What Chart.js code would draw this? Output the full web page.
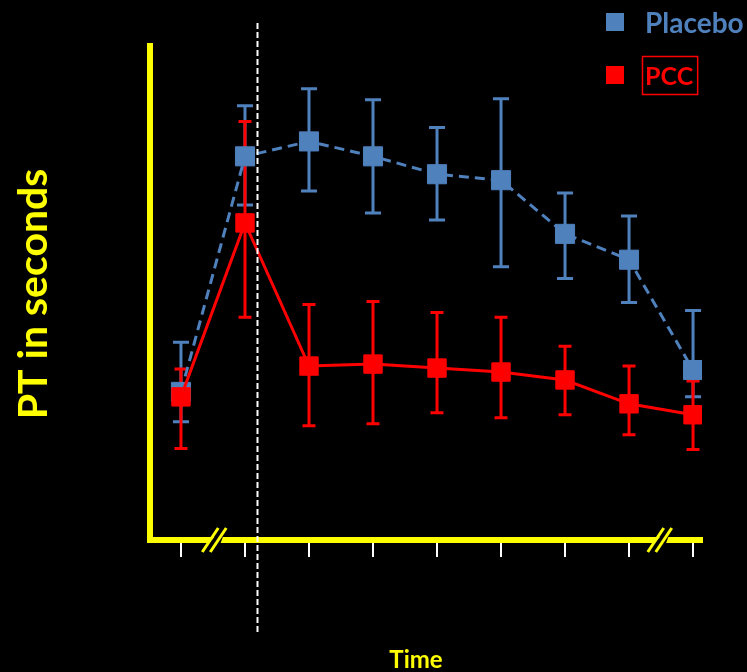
<!DOCTYPE html>
<html>
<head>
<meta charset="utf-8">
<script src="https://cdn.jsdelivr.net/npm/chart.js@4.4.1/dist/chart.umd.min.js"></script>
<style>
  html, body { margin: 0; padding: 0; background: #000; }
  #container { width: 747px; height: 672px; }
</style>
</head>
<body>
<div id="container"><canvas id="ptChart" width="747" height="672"></canvas></div>
<script>
// time points along the (broken) x axis
const TIME_POINTS = [0, 1, 2, 3, 4, 5, 6, 7, 8];

// PT values (arbitrary units, 0 = x axis)
const PLACEBO_MEAN = [14.9, 38.6, 40.1, 38.6, 36.8, 36.2, 30.8, 28.2, 17.1];
const PLACEBO_HIGH = [19.9, 43.7, 45.4, 44.3, 41.5, 44.4, 34.9, 32.6, 23.1];
const PLACEBO_LOW  = [11.9, 33.7, 35.1, 32.9, 32.2, 27.5, 26.3, 23.9, 14.4];

const PCC_MEAN = [14.4, 31.9, 17.5, 17.7, 17.3, 16.9, 16.1, 13.7, 12.6];
const PCC_HIGH = [17.2, 42.1, 23.7, 24.0, 22.9, 22.4, 19.5, 17.5, 16.0];
const PCC_LOW  = [9.2, 22.4, 11.5, 11.7, 12.8, 12.3, 12.6, 10.6, 9.1];

const AXIS_BREAKS = [0.52, 7.48];   // the "//" marks on the time axis
const INFUSION_TIME = 1.19;         // white dashed line

const YELLOW = '#FFFF00';
const BLUE = '#4F81BD';
const RED = '#FF0000';
const FONT = 'Lato, "Open Sans", sans-serif';

function toPoints(values) {
    return TIME_POINTS.map((t, i) => ({ x: t, y: values[i] }));
}

// draws error bars (low / high) under the markers
const errorBars = {
    id: 'errorBars',
    beforeDatasetsDraw(chart) {
        const ctx = chart.ctx;
        const xs = chart.scales.x, ys = chart.scales.y;
        chart.data.datasets.forEach(ds => {
            ctx.save();
            ctx.strokeStyle = ds.borderColor;
            ctx.lineWidth = 3;
            const half = ds.capWidth / 2;
            TIME_POINTS.forEach((t, i) => {
                const x = xs.getPixelForValue(t);
                const yLo = ys.getPixelForValue(ds.low[i]);
                const yHi = ys.getPixelForValue(ds.high[i]);
                ctx.beginPath();
                ctx.moveTo(x, yLo); ctx.lineTo(x, yHi);
                ctx.moveTo(x - half, yLo); ctx.lineTo(x + half, yLo);
                ctx.moveTo(x - half, yHi); ctx.lineTo(x + half, yHi);
                ctx.stroke();
            });
            ctx.restore();
        });

        // axis breaks
        const bottom = chart.chartArea.bottom;
        AXIS_BREAKS.forEach(b => {
            const cx = xs.getPixelForValue(b);
            ctx.save();
            ctx.fillStyle = '#000';
            ctx.beginPath();
            ctx.moveTo(cx - 4 - 2, bottom + 4);
            ctx.lineTo(cx + 4 + 2, bottom + 4);
            ctx.lineTo(cx + 4 + 2 + 3, bottom - 4);
            ctx.lineTo(cx - 4 + 2 + 3, bottom - 4);
            ctx.closePath();
            ctx.fill();
            ctx.strokeStyle = YELLOW;
            ctx.lineWidth = 3;
            [-4, 4].forEach(o => {
                ctx.beginPath();
                ctx.moveTo(cx + o - 8, bottom + 12);
                ctx.lineTo(cx + o + 8, bottom - 12);
                ctx.stroke();
            });
            ctx.restore();
        });
    },
    afterDatasetsDraw(chart) {
        const ctx = chart.ctx;
        const x = Math.round(chart.scales.x.getPixelForValue(INFUSION_TIME)) + 0.5;
        ctx.save();
        ctx.strokeStyle = '#FFFFFF';
        ctx.lineWidth = 2;
        ctx.setLineDash([6, 3]);
        ctx.beginPath();
        ctx.moveTo(x, 23);
        ctx.lineTo(x, 632);
        ctx.stroke();
        ctx.restore();
    }
};

// background, axis titles and legend
const decorations = {
    id: 'decorations',
    beforeDraw(chart) {
        const ctx = chart.ctx;
        ctx.save();
        ctx.fillStyle = '#000';
        ctx.fillRect(0, 0, chart.width, chart.height);
        ctx.restore();
    },
    afterDraw(chart) {
        const ctx = chart.ctx;
        ctx.save();
        ctx.fillStyle = YELLOW;
        ctx.textBaseline = 'alphabetic';

        // y title
        ctx.save();
        ctx.translate(47, 294);
        ctx.rotate(-Math.PI / 2);
        ctx.textAlign = 'center';
        ctx.font = 'bold 41px ' + FONT;
        ctx.fillText('PT in seconds', 0, 0);
        ctx.restore();

        // x title
        ctx.textAlign = 'center';
        ctx.font = 'bold 24px ' + FONT;
        ctx.fillText('Time', 416, 668);

        // legend
        ctx.textAlign = 'left';
        const rows = [
            { top: 13, base: 33, size: 28 },
            { top: 66, base: 85, size: 25 }
        ];
        chart.data.datasets.forEach((ds, i) => {
            const r = rows[i];
            ctx.fillStyle = ds.borderColor;
            ctx.fillRect(606, r.top, 18, 18);
            ctx.font = 'bold ' + r.size + 'px ' + FONT;
            ctx.fillText(ds.label, 645, r.base);
            if (ds.boxed) {
                const w = ctx.measureText(ds.label).width;
                ctx.strokeStyle = ds.borderColor;
                ctx.lineWidth = 1.5;
                ctx.strokeRect(642.5, 56.5, w + 7, 38);
            }
        });
        ctx.restore();
    }
};

const DATA = {
    datasets: [
        {
            label: 'Placebo',
            data: toPoints(PLACEBO_MEAN),
            low: PLACEBO_LOW,
            high: PLACEBO_HIGH,
            capWidth: 16,
            borderColor: BLUE,
            backgroundColor: BLUE,
            borderWidth: 3,
            borderDash: [10, 6],
            pointStyle: 'rect',
            pointRadius: 13.5,
            pointBorderWidth: 1,
            order: 1
        },
        {
            label: 'PCC',
            data: toPoints(PCC_MEAN),
            low: PCC_LOW,
            high: PCC_HIGH,
            capWidth: 13,
            boxed: true,
            borderColor: RED,
            backgroundColor: RED,
            borderWidth: 3,
            pointStyle: 'rect',
            pointRadius: 13,
            pointBorderWidth: 1,
            order: 0
        }
    ]
};

const CONFIG = {
    type: 'line',
    data: DATA,
    plugins: [decorations, errorBars],
    options: {
        responsive: false,
        animation: false,
        layout: { padding: { top: 46, right: 45, left: 0, bottom: 0 } },
        plugins: {
            legend: { display: false },
            tooltip: { enabled: false }
        },
        elements: { line: { tension: 0 } },
        scales: {
            x: {
                type: 'linear',
                min: -0.484,
                max: 8.14,
                afterBuildTicks: s => { s.ticks = TIME_POINTS.map(v => ({ value: v })); },
                afterFit: s => { s.height = 132; },
                ticks: { display: false, includeBounds: false },
                grid: {
                    display: true,
                    drawOnChartArea: false,
                    drawTicks: true,
                    tickLength: 17,
                    color: '#FFFFFF',
                    lineWidth: 2
                },
                border: { display: true, color: YELLOW, width: 6 }
            },
            y: {
                min: 0,
                max: 49.7,
                afterFit: s => { s.width = 150; },
                ticks: { display: false },
                grid: { display: false, drawTicks: false },
                border: { display: true, color: YELLOW, width: 6 }
            }
        }
    }
};

new Chart(document.getElementById('ptChart'), CONFIG);
</script>
</body>
</html>
